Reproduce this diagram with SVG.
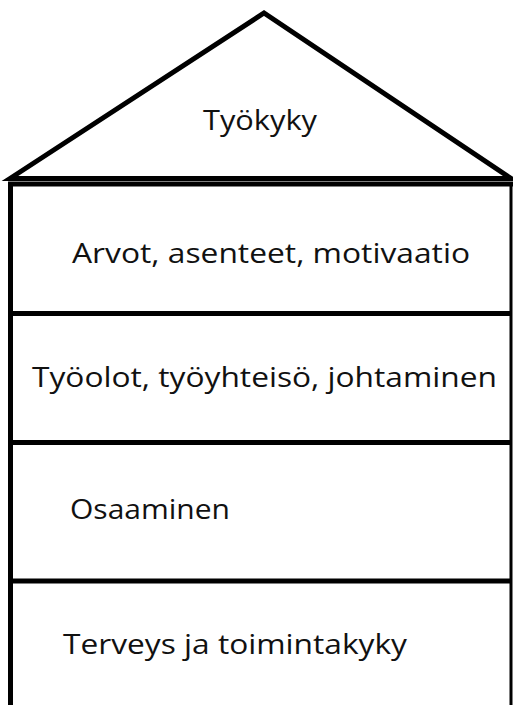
<svg xmlns="http://www.w3.org/2000/svg" width="513" height="705" viewBox="0 0 513 705">
  <style>
    .ln { stroke: #000; fill: none; stroke-linejoin: miter; }
    .lbl { font-family: "Open Sans", "Noto Sans", "DejaVu Sans", sans-serif; font-size: 27px; fill: #111; }
  </style>
  <rect width="513" height="705" fill="#fff"/>

  <!-- roof -->
  <g id="roof">
    <polygon class="ln" points="10,178.5 264,13 511,178.5" stroke-width="5" stroke-linejoin="round"/>
    <text class="lbl" x="203" y="130" textLength="114" lengthAdjust="spacingAndGlyphs">Työkyky</text>
  </g>

  <!-- building walls and floor dividers -->
  <g id="walls">
    <line class="ln" x1="8" y1="184" x2="513" y2="184" stroke-width="5"/>
    <line class="ln" x1="10.5" y1="182" x2="10.5" y2="705" stroke-width="5"/>
    <line class="ln" x1="511" y1="182" x2="511" y2="705" stroke-width="3"/>
  </g>

  <g id="floor-values">
    <text class="lbl" x="72" y="263" textLength="398" lengthAdjust="spacingAndGlyphs">Arvot, asenteet, motivaatio</text>
    <line class="ln" x1="8" y1="313.5" x2="512" y2="313.5" stroke-width="5"/>
  </g>

  <g id="floor-work">
    <text class="lbl" x="32" y="387" textLength="465" lengthAdjust="spacingAndGlyphs">Työolot, työyhteisö, johtaminen</text>
    <line class="ln" x1="8" y1="442.5" x2="512" y2="442.5" stroke-width="5"/>
  </g>

  <g id="floor-skills">
    <text class="lbl" x="70" y="519" textLength="160" lengthAdjust="spacingAndGlyphs">Osaaminen</text>
    <line class="ln" x1="8" y1="581" x2="512" y2="581" stroke-width="5"/>
  </g>

  <g id="floor-health">
    <text class="lbl" x="63" y="654" textLength="344" lengthAdjust="spacingAndGlyphs">Terveys ja toimintakyky</text>
  </g>
</svg>
